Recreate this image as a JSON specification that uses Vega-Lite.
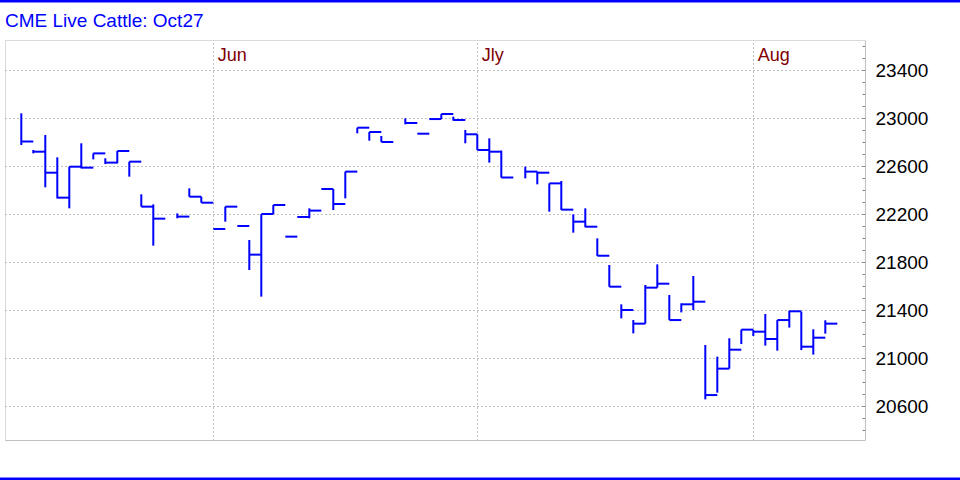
{
  "$schema": "https://vega.github.io/schema/vega-lite/v6.json",
  "width": 960,
  "height": 480,
  "autosize": {"type": "none"},
  "padding": 0,
  "background": "white",
  "title": {
    "text": "CME Live Cattle: Oct27",
    "anchor": "start",
    "frame": "group",
    "orient": "top",
    "offset": -46,
    "baseline": "alphabetic",
    "color": "#0000FF",
    "font": "Liberation Sans",
    "fontSize": 19,
    "fontWeight": "normal",
    "dx": 5
  },
  "config": {
    "view": {"stroke": "#0000FF", "strokeWidth": 5, "strokeDash": [960, 480], "fill": "white"}
  },
  "data": {
    "values": [
      {"i": 0, "h": 23042, "l": 22778, "c": 22806},
      {"i": 1, "h": 22736, "l": 22708, "c": 22722},
      {"i": 2, "h": 22861, "l": 22425, "c": 22547},
      {"i": 3, "h": 22675, "l": 22333, "c": 22339},
      {"i": 4, "h": 22597, "l": 22250, "c": 22597},
      {"i": 5, "h": 22792, "l": 22583, "c": 22589},
      {"i": 6, "h": 22708, "l": 22658, "c": 22708},
      {"i": 7, "h": 22667, "l": 22619, "c": 22631},
      {"i": 8, "h": 22728, "l": 22625, "c": 22728},
      {"i": 9, "h": 22639, "l": 22514, "c": 22639},
      {"i": 10, "h": 22367, "l": 22264, "c": 22264},
      {"i": 11, "h": 22283, "l": 21939, "c": 22164},
      {"i": 13, "h": 22208, "l": 22167, "c": 22181},
      {"i": 14, "h": 22417, "l": 22347, "c": 22347},
      {"i": 15, "h": 22347, "l": 22297, "c": 22297},
      {"i": 16, "h": 22078, "l": 22078, "c": 22078},
      {"i": 17, "h": 22264, "l": 22139, "c": 22264},
      {"i": 18, "h": 22103, "l": 22103, "c": 22103},
      {"i": 19, "h": 21986, "l": 21736, "c": 21864},
      {"i": 20, "h": 22203, "l": 21514, "c": 22203},
      {"i": 21, "h": 22278, "l": 22203, "c": 22278},
      {"i": 22, "h": 22014, "l": 22014, "c": 22014},
      {"i": 23, "h": 22178, "l": 22178, "c": 22178},
      {"i": 24, "h": 22250, "l": 22167, "c": 22231},
      {"i": 25, "h": 22411, "l": 22411, "c": 22411},
      {"i": 26, "h": 22411, "l": 22236, "c": 22286},
      {"i": 27, "h": 22556, "l": 22333, "c": 22556},
      {"i": 28, "h": 22922, "l": 22875, "c": 22922},
      {"i": 29, "h": 22886, "l": 22814, "c": 22886},
      {"i": 30, "h": 22853, "l": 22803, "c": 22803},
      {"i": 32, "h": 23000, "l": 22950, "c": 22961},
      {"i": 33, "h": 22872, "l": 22872, "c": 22872},
      {"i": 34, "h": 22994, "l": 22994, "c": 22994},
      {"i": 35, "h": 23036, "l": 22994, "c": 23036},
      {"i": 36, "h": 23014, "l": 22981, "c": 22986},
      {"i": 37, "h": 22903, "l": 22792, "c": 22867},
      {"i": 38, "h": 22867, "l": 22736, "c": 22736},
      {"i": 39, "h": 22833, "l": 22631, "c": 22722},
      {"i": 40, "h": 22731, "l": 22506, "c": 22506},
      {"i": 42, "h": 22597, "l": 22500, "c": 22556},
      {"i": 43, "h": 22556, "l": 22450, "c": 22547},
      {"i": 44, "h": 22458, "l": 22222, "c": 22458},
      {"i": 45, "h": 22478, "l": 22236, "c": 22239},
      {"i": 46, "h": 22200, "l": 22047, "c": 22139},
      {"i": 47, "h": 22250, "l": 22092, "c": 22097},
      {"i": 48, "h": 22000, "l": 21853, "c": 21855},
      {"i": 49, "h": 21778, "l": 21597, "c": 21597},
      {"i": 50, "h": 21450, "l": 21333, "c": 21403},
      {"i": 51, "h": 21319, "l": 21208, "c": 21289},
      {"i": 52, "h": 21611, "l": 21289, "c": 21589},
      {"i": 53, "h": 21783, "l": 21589, "c": 21622},
      {"i": 54, "h": 21528, "l": 21319, "c": 21319},
      {"i": 55, "h": 21458, "l": 21383, "c": 21450},
      {"i": 56, "h": 21686, "l": 21403, "c": 21472},
      {"i": 57, "h": 21111, "l": 20658, "c": 20694},
      {"i": 58, "h": 21014, "l": 20714, "c": 20914},
      {"i": 59, "h": 21167, "l": 20914, "c": 21072},
      {"i": 60, "h": 21239, "l": 21119, "c": 21239},
      {"i": 61, "h": 21236, "l": 21186, "c": 21222},
      {"i": 62, "h": 21369, "l": 21106, "c": 21161},
      {"i": 63, "h": 21319, "l": 21064, "c": 21319},
      {"i": 64, "h": 21397, "l": 21256, "c": 21392},
      {"i": 65, "h": 21389, "l": 21069, "c": 21097},
      {"i": 66, "h": 21242, "l": 21031, "c": 21172},
      {"i": 67, "h": 21317, "l": 21206, "c": 21289}
    ]
  },
  "layer": [
    {
      "mark": {"type": "rule", "color": "#0000FF", "strokeWidth": 2},
      "encoding": {
        "x": {
          "field": "i",
          "type": "quantitative",
          "scale": {"domain": [-1.358, 70.308], "range": [5, 865], "nice": false, "zero": false},
          "axis": {
            "orient": "top",
            "offset": -40,
            "title": null,
            "values": [16, 38, 61],
            "labelExpr": "datum.value == 16 ? 'Jun' : datum.value == 38 ? 'Jly' : 'Aug'",
            "ticks": false,
            "labelPadding": -20,
            "labelAlign": "left",
            "labelBaseline": "alphabetic",
            "labelOffset": 4,
            "labelColor": "#800000",
            "labelFont": "Liberation Sans",
            "labelFontSize": 18,
            "labelOverlap": false,
            "labelFlush": false,
            "grid": true,
            "gridColor": "#808080",
            "gridDash": [1, 3],
            "domainColor": "#b4b4b4",
            "domainDash": [1, 1]
          }
        },
        "y": {
          "field": "l",
          "type": "quantitative",
          "scale": {"domain": [20319.4, 23652.8], "range": [440, 40], "nice": false, "zero": false},
          "axis": {
            "orient": "right",
            "offset": -95,
            "title": null,
            "values": [20400, 20500, 20600, 20700, 20800, 20900, 21000, 21100, 21200, 21300, 21400, 21500, 21600, 21700, 21800, 21900, 22000, 22100, 22200, 22300, 22400, 22500, 22600, 22700, 22800, 22900, 23000, 23100, 23200, 23300, 23400, 23500, 23600],
            "format": "d",
            "labelExpr": "(datum.value - 200) % 400 === 0 ? datum.label : ''",
            "labelFont": "Liberation Sans",
            "labelFontSize": 19,
            "labelColor": "#000000",
            "labelPadding": 13,
            "labelOverlap": false,
            "labelFlush": false,
            "tickSize": -3,
            "tickColor": "#808080",
            "grid": false,
            "domainColor": "#c0c0c0"
          }
        },
        "y2": {"field": "h"}
      }
    },
    {
      "mark": {"type": "tick", "orient": "horizontal", "color": "#0000FF", "size": 12, "thickness": 2, "xOffset": 6, "opacity": 1},
      "encoding": {
        "x": {
          "field": "i",
          "type": "quantitative",
          "axis": {"orient": "bottom", "offset": -40, "title": null, "labels": false, "ticks": false, "grid": false, "domainColor": "#c0c0c0"}
        },
        "y": {
          "field": "c",
          "type": "quantitative",
          "axis": {
            "orient": "left",
            "offset": -5,
            "title": null,
            "labels": false,
            "ticks": false,
            "values": [20600, 21000, 21400, 21800, 22200, 22600, 23000, 23400],
            "grid": true,
            "gridColor": "#808080",
            "gridDash": [1, 3],
            "domainColor": "#b4b4b4",
            "domainDash": [1, 1]
          }
        }
      }
    }
  ],
  "resolve": {"axis": {"x": "independent", "y": "independent"}}
}
